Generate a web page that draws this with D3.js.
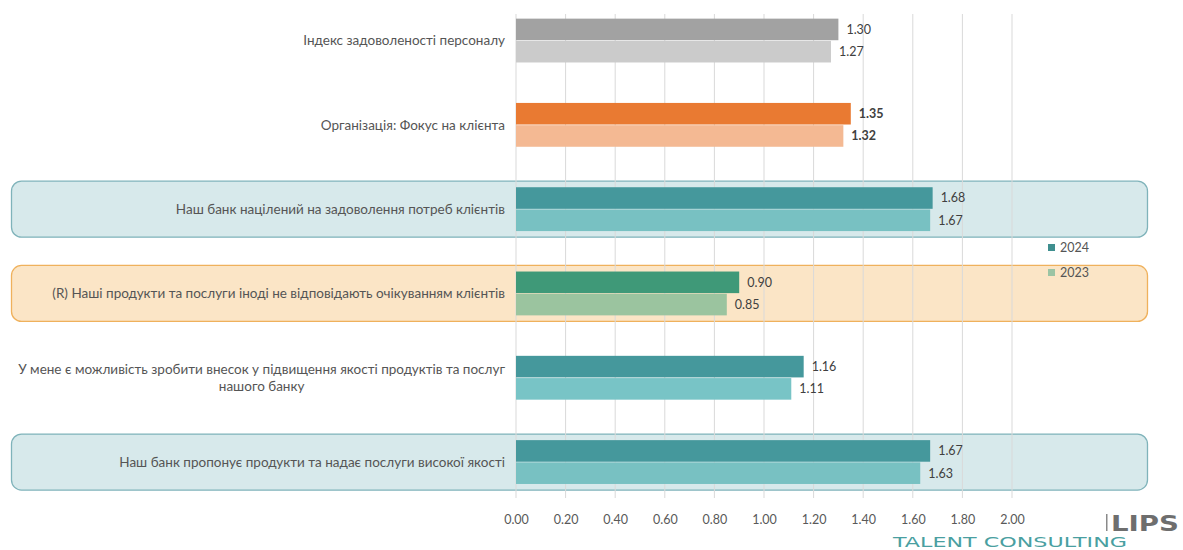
<!DOCTYPE html>
<html>
<head>
<meta charset="utf-8">
<script src="https://cdn.jsdelivr.net/npm/d3@7"></script>
<style>
  html, body { margin: 0; padding: 0; background: #ffffff; }
  svg { display: block; font-family: Lato, "Open Sans", sans-serif; }
</style>
</head>
<body>
<svg id="chart" width="1183" height="550"></svg>
<script>
// Survey items (top to bottom)
const categories = [
  "Індекс задоволеності персоналу",
  "Організація: Фокус на клієнта",
  "Наш банк націлений на задоволення потреб клієнтів",
  "(R) Наші продукти та послуги іноді не відповідають очікуванням клієнтів",
  "У мене є можливість зробити внесок у підвищення якості продуктів та послуг|нашого банку",
  "Наш банк пропонує продукти та надає послуги високої якості"
];
const series = ["2024", "2023"];
const values2024 = [1.30, 1.35, 1.68, 0.90, 1.16, 1.67];
const values2023 = [1.27, 1.32, 1.67, 0.85, 1.11, 1.63];
const tickValues = [0, 0.2, 0.4, 0.6, 0.8, 1.0, 1.2, 1.4, 1.6, 1.8, 2.0];

// Per-row colour pairs [2024, 2023] and highlight frames
const rowColors = [
  ["#a2a2a2", "#cbcbcb"],
  ["#e97a32", "#f4b993"],
  ["#45989c", "#78c1c2"],
  ["#3f9978", "#9bc49f"],
  ["#45989c", "#78c4c6"],
  ["#45989c", "#78c1c2"]
];
const rowFrames = [null, null, "blue", "orange", null, "blue"];
const frameStyles = {
  blue:   { fill: "#d7e9eb", stroke: "#7fb3ba" },
  orange: { fill: "#fbe5c6", stroke: "#efb15c" }
};
const boldLabels = [false, true, false, false, false, false];

const svg = d3.select("#chart");

const x = d3.scaleLinear().domain([0, 2]).range([516, 1012]);
const y = d3.scaleBand().domain(categories).range([-1.6, 504.2])
  .paddingInner(0.48).paddingOuter(0.24);
const ySub = d3.scaleBand().domain(series).range([0, y.bandwidth()]).paddingInner(0.03);

const rows = categories.map((c, i) => ({
  cat: c, i,
  vals: [values2024[i], values2023[i]]
}));

// Highlight frames behind selected rows
svg.append("g").selectAll("rect")
  .data(rows.filter(r => rowFrames[r.i]))
  .join("rect")
  .attr("x", 11.5)
  .attr("width", 1136)
  .attr("y", r => y(r.cat) + y.bandwidth() / 2 - 28)
  .attr("height", 56)
  .attr("rx", 10)
  .attr("fill", r => frameStyles[rowFrames[r.i]].fill)
  .attr("stroke", r => frameStyles[rowFrames[r.i]].stroke)
  .attr("stroke-width", 1.3);

// Vertical gridlines
svg.append("g").selectAll("line")
  .data(tickValues)
  .join("line")
  .attr("x1", d => x(d)).attr("x2", d => x(d))
  .attr("y1", 14).attr("y2", 498)
  .attr("stroke", "#d9d9d9")
  .attr("stroke-width", 1);

// Bars
const rowG = svg.append("g").selectAll("g")
  .data(rows)
  .join("g")
  .attr("transform", r => `translate(0,${y(r.cat)})`);

rowG.selectAll("rect")
  .data(r => r.vals.map((v, k) => ({ v, k, row: r.i })))
  .join("rect")
  .attr("x", x(0))
  .attr("y", d => ySub(series[d.k]))
  .attr("width", d => x(d.v) - x(0))
  .attr("height", ySub.bandwidth())
  .attr("fill", d => rowColors[d.row][d.k]);

// Value labels
rowG.selectAll("text")
  .data(r => r.vals.map((v, k) => ({ v, k, row: r.i })))
  .join("text")
  .attr("x", d => x(d.v) + 8)
  .attr("y", d => ySub(series[d.k]) + ySub.bandwidth() / 2)
  .attr("dy", "0.35em")
  .attr("font-size", 12.5)
  .attr("font-weight", d => boldLabels[d.row] ? "bold" : "normal")
  .attr("fill", "#404040")
  .text(d => d3.format(".2f")(d.v));

// Category labels
const labelG = svg.append("g");
const labelSize = 13.5;
rows.forEach(r => {
  const lines = r.cat.split("|");
  const cy = y(r.cat) + y.bandwidth() / 2;
  const lh = 17;
  const first = labelG.append("text")
    .attr("x", 505)
    .attr("y", cy - (lines.length - 1) * lh / 2)
    .attr("dy", "0.35em")
    .attr("text-anchor", "end")
    .attr("font-size", labelSize)
    .attr("fill", "#555555")
    .text(lines[0]);
  if (lines.length > 1) {
    const w = first.node().getComputedTextLength();
    const mid = 505 - w / 2;
    for (let j = 1; j < lines.length; j++) {
      labelG.append("text")
        .attr("x", mid)
        .attr("y", cy - (lines.length - 1) * lh / 2 + j * lh)
        .attr("dy", "0.35em")
        .attr("text-anchor", "middle")
        .attr("font-size", labelSize)
        .attr("fill", "#555555")
        .text(lines[j]);
    }
  }
});

// Bottom axis tick labels
const axis = d3.axisBottom(x).tickValues(tickValues).tickFormat(d3.format(".2f")).tickSize(0).tickPadding(0);
const axG = svg.append("g").attr("transform", "translate(0,515)").call(axis);
axG.select(".domain").remove();
axG.selectAll("text")
  .attr("font-family", "Lato, 'Open Sans', sans-serif")
  .attr("font-size", 12.5)
  .attr("fill", "#595959");

// Legend
const legend = svg.append("g").attr("transform", "translate(1048,248)");
series.forEach((s, k) => {
  const g = legend.append("g").attr("transform", `translate(0,${k * 25})`);
  g.append("rect").attr("x", 0).attr("y", -4).attr("width", 7).attr("height", 7)
    .attr("fill", k === 0 ? "#3f8f8f" : "#9bc4a4");
  g.append("text").attr("x", 12).attr("y", 0).attr("dy", "0.35em")
    .attr("font-size", 12.5).attr("fill", "#555555").text(s);
});

// Brand mark
svg.append("rect").attr("x", 1106).attr("y", 514).attr("width", 1.5).attr("height", 17).attr("fill", "#8a8a8a");
svg.append("text").attr("x", 1111).attr("y", 531)
  .attr("font-family", "'DejaVu Sans', sans-serif")
  .attr("font-size", 22).attr("font-weight", "bold").attr("fill", "#6e6e6e")
  .attr("textLength", 68).attr("lengthAdjust", "spacingAndGlyphs")
  .text("LIPS");
svg.append("text").attr("x", 893).attr("y", 547)
  .attr("font-family", "'DejaVu Sans', sans-serif")
  .attr("font-size", 14).attr("fill", "#4a9fa1")
  .attr("textLength", 234).attr("lengthAdjust", "spacingAndGlyphs")
  .text("TALENT CONSULTING");
</script>
</body>
</html>
